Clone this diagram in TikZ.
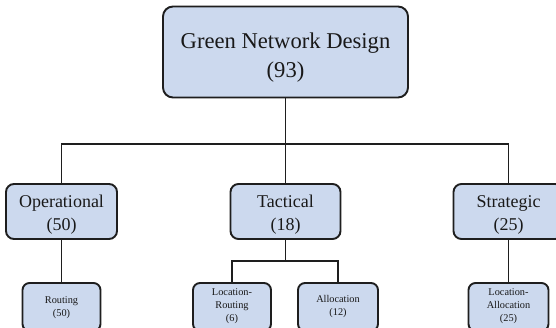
\documentclass[tikz,border=0pt]{standalone}
\usepackage{fontspec}
\setmainfont{Liberation Serif}
\definecolor{boxfill}{HTML}{CCD9EE}
\definecolor{boxline}{HTML}{1E1E1E}
\tikzset{
  box/.style={draw=boxline, fill=boxfill, line width=1.9pt, inner sep=0pt},
  bigbox/.style={box, rounded corners=10pt, minimum width=245pt, minimum height=91pt},
  midbox/.style={box, rounded corners=8pt, minimum width=110pt, minimum height=55pt},
  smallbox/.style={box, rounded corners=7pt, minimum width=78pt, minimum height=48pt},
  bigtxt/.style={align=center, inner sep=0pt, text=black!90, font=\fontsize{22.6}{29}\selectfont},
  midtxt/.style={align=center, inner sep=0pt, text=black!90, font=\fontsize{18}{23}\selectfont},
  smalltxt/.style={align=center, inner sep=0pt, text=black!90, font=\fontsize{10.3}{13}\selectfont},
  conn/.style={draw=boxline, line width=1.7pt}
}
\begin{document}
\begin{tikzpicture}[x=1pt,y=-1pt]
\useasboundingbox (0,0) rectangle (556,328);
\fill[white] (0,0) rectangle (556,328);
\clip (0,0) rectangle (556,328);
\coordinate (bus) at (285.5,144);
\coordinate (tbus) at (285.5,261);
\node[bigbox] (top) at (285.5,52) {};
\node[bigtxt] (toptxt) at (285.5,57.5) {Green Network Design\\(93)};
\node[midbox, minimum width=111pt] (op) at (61.5,211.5) {};
\node[midtxt] (optxt) at (61.5,215) {Operational\\(50)};
\node[midbox] (tac) at (285.5,211.5) {};
\node[midtxt] (tactxt) at (285.5,215) {Tactical\\(18)};
\node[midbox] (str) at (508.5,211.5) {};
\node[midtxt] (strtxt) at (508.5,215) {Strategic\\(25)};
\node[smallbox] (rout) at (61.5,307) {};
\node[smalltxt] (routtxt) at (61.5,307.5) {Routing\\(50)};
\node[smallbox] (lr) at (232,307) {};
\node[smalltxt] (lrtxt) at (232,306.5) {Location-\\Routing\\(6)};
\node[smallbox, minimum width=80pt] (alloc) at (338,307) {};
\node[smalltxt] (alloctxt) at (338,306.5) {Allocation\\(12)};
\node[smallbox, minimum width=80pt] (la) at (508.5,307) {};
\node[smalltxt] (latxt) at (508.5,306.5) {Location-\\Allocation\\(25)};
\draw[conn] (top.south) -- (bus);
\draw[conn] (op.north) |- (bus) -| (str.north);
\draw[conn] (tac.north) -- (bus);
\draw[conn] (op.south) -- (rout.north);
\draw[conn] (str.south) -- (la.north);
\draw[conn] (tac.south) -- (tbus);
\draw[conn] (lr.north) |- (tbus) -| (alloc.north);
\end{tikzpicture}
\end{document}
